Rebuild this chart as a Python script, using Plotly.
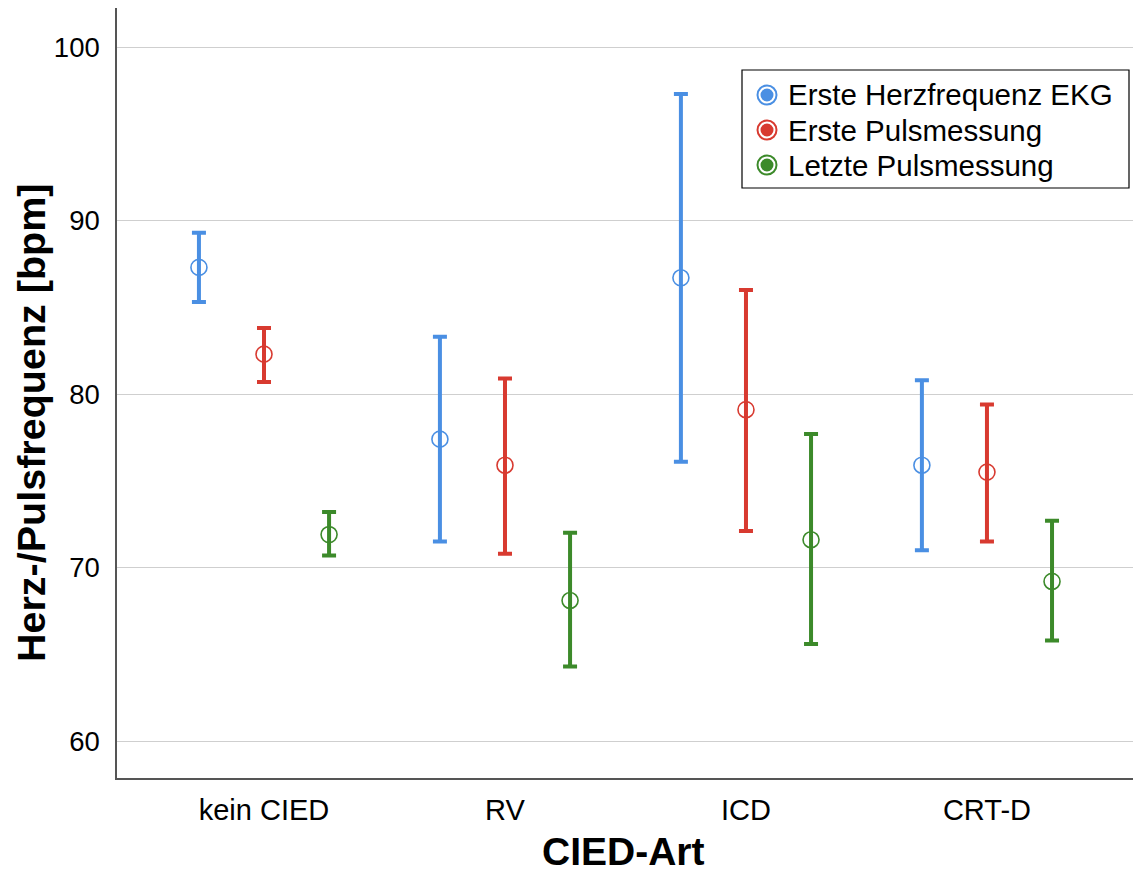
import plotly.graph_objects as go

# CIED groups on the x axis
categories = ["kein CIED", "RV", "ICD", "CRT-D"]

# Mean heart/pulse rate with lower / upper 95% CI bounds (bpm)
ekg_mean = [87.3, 77.4, 86.7, 75.9]
ekg_low = [85.3, 71.5, 76.1, 71.0]
ekg_high = [89.3, 83.3, 97.3, 80.8]

puls1_mean = [82.3, 75.9, 79.1, 75.5]
puls1_low = [80.7, 70.8, 72.1, 71.5]
puls1_high = [83.8, 80.9, 86.0, 79.4]

puls2_mean = [71.9, 68.1, 71.6, 69.2]
puls2_low = [70.7, 64.3, 65.6, 65.8]
puls2_high = [73.2, 72.0, 77.7, 72.7]

series_names = ["Erste Herzfrequenz EKG", "Erste Pulsmessung", "Letzte Pulsmessung"]
colors = ["#4a8fe3", "#d83a30", "#3c8a2a"]
offsets = [-0.27, 0.0, 0.27]

series = [
    (ekg_mean, ekg_low, ekg_high),
    (puls1_mean, puls1_low, puls1_high),
    (puls2_mean, puls2_low, puls2_high),
]

# figure / plot-area geometry in pixels
W, H = 1133, 874
M_L, M_R, M_T, M_B = 117, 0, 8, 96
PW, PH = W - M_L - M_R, H - M_T - M_B


def px_x(px):
    return (px - M_L) / PW


def px_y(py):
    return (H - M_B - py) / PH


fig = go.Figure()

for (mean, low, high), name, color, off in zip(series, series_names, colors, offsets):
    xs = [i + off for i in range(len(categories))]
    fig.add_trace(go.Scatter(
        x=xs, y=mean, mode="markers", name=name, showlegend=False,
        marker=dict(symbol="circle-open", size=16, color=color, line=dict(width=1.6, color=color)),
        error_y=dict(
            type="data", symmetric=False,
            array=[h - m for h, m in zip(high, mean)],
            arrayminus=[m - l for m, l in zip(mean, low)],
            color=color, thickness=4, width=7,
        ),
    ))

# legend box drawn by hand: ringed dots + labels
shapes = [dict(
    type="rect", xref="paper", yref="paper",
    x0=px_x(742), x1=px_x(1129), y0=px_y(188), y1=px_y(70),
    line=dict(color="black", width=1.2), fillcolor="white", layer="above",
)]
annotations = []
row_y = [95, 130, 165]
for name, color, ry in zip(series_names, colors, row_y):
    for diam, fill in [(21, color), (17, "white"), (13, color)]:
        shapes.append(dict(
            type="circle", xref="paper", yref="paper",
            xsizemode="pixel", ysizemode="pixel",
            xanchor=px_x(767), yanchor=px_y(ry),
            x0=-diam / 2, x1=diam / 2, y0=-diam / 2, y1=diam / 2,
            fillcolor=fill, line=dict(width=0), layer="above",
        ))
    annotations.append(dict(
        text=name, xref="paper", yref="paper",
        x=px_x(786), y=px_y(ry), xanchor="left", yanchor="middle",
        showarrow=False, font=dict(size=29.5, color="black"),
    ))

# axis titles
annotations.append(dict(
    text="<b>Herz-/Pulsfrequenz [bpm]</b>", xref="paper", yref="paper",
    x=px_x(31), y=px_y(423), xanchor="center", yanchor="middle",
    textangle=-90, showarrow=False, font=dict(size=39.5, color="black"),
))
annotations.append(dict(
    text="<b>CIED-Art</b>", xref="paper", yref="paper",
    x=px_x(623), y=px_y(874), xanchor="center", yanchor="bottom",
    showarrow=False, borderpad=0, font=dict(size=39, color="black"),
))

fig.update_layout(
    width=W, height=H,
    margin=dict(l=M_L, r=M_R, t=M_T, b=M_B, autoexpand=False),
    paper_bgcolor="white", plot_bgcolor="white",
    font=dict(family="Liberation Sans, Arial, sans-serif", color="black"),
    showlegend=False,
    shapes=shapes,
    annotations=annotations,
    xaxis=dict(
        range=[-0.61, 3.606], tickmode="array",
        tickvals=list(range(len(categories))), ticktext=categories,
        showgrid=False, zeroline=False, showline=True, linecolor="#555555", linewidth=1.5,
        ticks="", tickfont=dict(size=29), ticklabelstandoff=5, automargin=False,
    ),
    yaxis=dict(
        range=[57.87, 102.25], tickvals=[60, 70, 80, 90, 100],
        showgrid=True, gridcolor="#cfcfcf", gridwidth=1.2,
        zeroline=False, showline=True, linecolor="#555555", linewidth=1.5,
        ticks="", tickfont=dict(size=27.5), ticklabelstandoff=10, automargin=False,
    ),
)

fig.write_html("out.html")
